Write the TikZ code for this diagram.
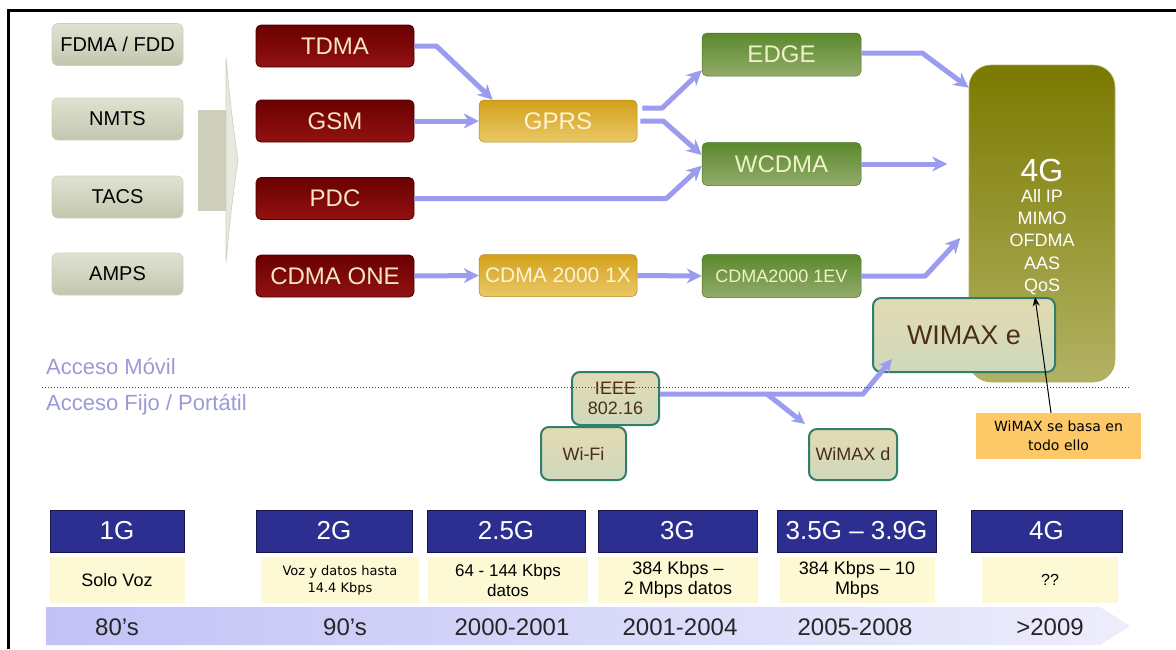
\documentclass[tikz,border=0pt]{standalone}
\usepackage{fontspec}
\setmainfont{Liberation Sans}
\newfontfamily\notefont{DejaVu Sans}
\usetikzlibrary{arrows.meta}

\newcommand{\fsz}[2]{\fontsize{#1}{#2}\selectfont}

\definecolor{lav}{HTML}{9B9BF0}
\definecolor{oldtop}{HTML}{E0E2D2}
\definecolor{oldbot}{HTML}{C3C6AE}
\definecolor{oldedge}{HTML}{CDD0BC}
\definecolor{redtop}{HTML}{6A0000}
\definecolor{redbot}{HTML}{931212}
\definecolor{rededge}{HTML}{4A0000}
\definecolor{cream}{HTML}{F6E6C6}
\definecolor{goldtop}{HTML}{D3A11A}
\definecolor{goldbot}{HTML}{EAC869}
\definecolor{goldtext}{HTML}{FCF4D2}
\definecolor{greentop}{HTML}{5A892C}
\definecolor{greenbot}{HTML}{93AB6B}
\definecolor{greentext}{HTML}{EFF2C8}
\definecolor{olivetop}{HTML}{7A7A00}
\definecolor{olivebot}{HTML}{B2B264}
\definecolor{wxtop}{HTML}{E3DAB2}
\definecolor{wxbot}{HTML}{CFD9BD}
\definecolor{wxedge}{HTML}{2F7F6C}
\definecolor{wxtext}{HTML}{4A2E1A}
\definecolor{navy}{HTML}{2C2E90}
\definecolor{navyedge}{HTML}{15164A}
\definecolor{paleyellow}{HTML}{FCF9D4}
\definecolor{notefill}{HTML}{FDC868}
\definecolor{accesstext}{HTML}{9A9AD6}
\definecolor{divider}{HTML}{3A3A8C}
\definecolor{bandleft}{HTML}{C2C2F6}
\definecolor{bandright}{HTML}{EDEDFC}
\definecolor{chevfill}{HTML}{CDCFBC}
\definecolor{chevlight}{HTML}{E8E9DE}

\begin{document}
\begin{tikzpicture}[x=1pt,y=-1pt,
  oldbox/.style={rounded corners=6pt, minimum width=131pt, minimum height=42pt,
    top color=oldtop, bottom color=oldbot, draw=oldedge, line width=0.6pt,
    text=black, font=\fsz{20}{24}, inner sep=0pt},
  redbox/.style={rounded corners=5pt, minimum width=158pt, minimum height=42pt,
    top color=redtop, bottom color=redbot, draw=rededge, line width=0.8pt,
    text=cream, font=\fsz{24}{28}, inner sep=0pt},
  goldbox/.style={rounded corners=5pt, minimum width=158pt, minimum height=42pt,
    top color=goldtop, bottom color=goldbot, draw=goldtop!85!black, line width=0.5pt,
    text=goldtext, inner sep=0pt},
  greenbox/.style={rounded corners=5pt, minimum width=159pt, minimum height=43pt,
    top color=greentop, bottom color=greenbot, draw=greentop!85!black, line width=0.5pt,
    text=greentext, inner sep=0pt},
  wxbox/.style={rounded corners=8pt, top color=wxtop, bottom color=wxbot,
    draw=wxedge, line width=2pt, text=wxtext, inner sep=0pt, align=center},
  genbox/.style={fill=navy, draw=navyedge, line width=1pt, minimum height=42pt,
    text=white, font=\fsz{26}{30}, inner sep=0pt},
  infobox/.style={fill=paleyellow, minimum height=46pt, text=black,
    font=\fsz{18}{20}, align=center, inner sep=0pt},
  yeartext/.style={text=black!85, font=\fsz{24}{28}, inner sep=0pt},
  flow/.style={draw=lav, line width=5pt, line join=round,
    -{Stealth[length=15pt,width=15pt]}},
  fixflow/.style={draw=lav, line width=5pt, line join=round,
    -{Stealth[length=13pt,width=13pt]}},
  plainlabel/.style={inner sep=0pt}
]
\useasboundingbox (0,0) rectangle (1176,649);

% frame on the top and left side
\coordinate (frameBL) at (8.5,649);
\coordinate (frameTL) at (8.5,10.5);
\coordinate (frameTR) at (1176,10.5);
\draw[line width=2.2pt] (frameBL) -- (frameTL) -- (frameTR);

% first generation systems
\node[oldbox] (fdma) at (117.5,44.5) {FDMA / FDD};
\node[oldbox] (nmts) at (117.5,119) {NMTS};
\node[oldbox] (tacs) at (117.5,197) {TACS};
\node[oldbox] (amps) at (117.5,274) {AMPS};

% large chevron leading to the second generation
\fill[chevfill] (198,110) rectangle (227,211);
\filldraw[fill=chevlight, draw=chevfill, line width=0.6pt]
  (226,58) .. controls (231,110) .. (238,160) .. controls (231,210) .. (226,262) -- cycle;

% second generation systems
\node[redbox] (tdma) at (335,46) {TDMA};
\node[redbox] (gsm)  at (335,121) {GSM};
\node[redbox] (pdc)  at (335,198.5) {PDC};
\node[redbox] (cdmaone) at (335,276) {CDMA ONE};

% 2.5G
\node[goldbox, font=\fsz{24}{28}] (gprs) at (558,121) {GPRS};
\node[goldbox, font=\fsz{21}{24}] (cdmax) at (558,275.5) {CDMA 2000 1X};

% 3G
\node[greenbox, font=\fsz{24}{28}] (edge)  at (781.5,54.5) {EDGE};
\node[greenbox, font=\fsz{24}{28}] (wcdma) at (781.5,164) {WCDMA};
\node[greenbox, font=\fsz{18}{22}] (cdmaev) at (781.5,276) {CDMA2000 1EV};

% 4G column
\node[rounded corners=22pt, minimum width=146pt, minimum height=317pt,
      top color=olivetop, bottom color=olivebot, draw=olivetop!60!white,
      line width=0.6pt] (fourg) at (1042,223.5) {};
\node[plainlabel, text=white, font=\fsz{32}{36}] (fourgtitle) at (1042,170) {4G};
\node[plainlabel, text=white, font=\fsz{18}{22.3}, align=center] (fourglist)
  at (1042,242) {All IP\\MIMO\\OFDMA\\AAS\\QoS};

% mobile evolution paths
\draw[flow] (tdma.east) -- ++(22,0) -- ([xshift=14pt]gprs.north west);
\draw[flow] (gsm.east) -- (gprs.west);
\draw[flow] (pdc.east) -- ++(252,0) -- ([yshift=20pt]wcdma.south west);
\draw[flow] (cdmaone.east) -- (cdmax.west);
\draw[flow] ([xshift=5pt,yshift=13pt]gprs.east) -- ++(20,0) -- ([yshift=6pt]edge.south west);
\draw[flow] ([xshift=3pt]gprs.east) -- ++(23,0) -- ([yshift=9pt]wcdma.west);
\draw[flow] (cdmax.east) -- (cdmaev.west);
\draw[flow] ([yshift=1.5pt]edge.east) -- ++(61,0) -- ([yshift=-23pt]fourg.north west);
\draw[flow] (wcdma.east) -- ++(86,0);
\draw[flow] (cdmaev.east) -- ++(64,0) -- ++(35,-38);

% WiMAX family
\node[wxbox, minimum width=182pt, minimum height=74pt, font=\fsz{27}{30}]
  (wimaxe) at (964,335) {WIMAX e};
\node[wxbox, minimum width=87pt, minimum height=53pt, font=\fsz{18}{20}]
  (ieee) at (615.5,398.5) {IEEE\\802.16};
\node[wxbox, minimum width=85pt, minimum height=53pt, font=\fsz{18}{20}]
  (wifi) at (583.5,453.5) {Wi-Fi};
\node[wxbox, minimum width=88pt, minimum height=51pt, font=\fsz{18}{20}]
  (wimaxd) at (853,454.5) {WiMAX d};

\coordinate (fork) at (767,394);
\draw[fixflow] ([yshift=4.5pt]ieee.east) -- ++(203,0) -- ([xshift=20pt,yshift=14pt]wimaxe.south west);
\draw[fixflow] (fork) -- ([xshift=-3pt,yshift=4pt]wimaxd.north west);

% mobile / fixed access divider
\node[plainlabel, anchor=west, text=accesstext, font=\fsz{22}{26}] (movil) at (46,366) {Acceso Móvil};
\node[plainlabel, anchor=west, text=accesstext, font=\fsz{22}{26}] (fijo) at (46,405) {Acceso Fijo / Portátil};
\coordinate (divL) at (42,387);
\coordinate (divR) at (1130,387);
\draw[divider, dotted, line width=1pt] (divL) -- (divR);

% note on WiMAX
\node[fill=notefill, minimum width=165pt, minimum height=46pt, align=center,
      font=\notefont\fsz{14}{19}, inner sep=0pt] (note) at (1058.5,436)
  {WiMAX se basa en\\todo ello};
\draw[line width=1pt, -{Stealth[length=9pt,width=7pt]}]
  ([xshift=-7.5pt]note.north) -- ([xshift=-7pt,yshift=-2pt]fourglist.south);

% generation headings
\node[genbox, minimum width=134pt] (g1)  at (117,531)   {1G};
\node[genbox, minimum width=156pt] (g2)  at (334,531)   {2G};
\node[genbox, minimum width=158pt] (g25) at (506,531)   {2.5G};
\node[genbox, minimum width=159pt] (g3)  at (677.5,531) {3G};
\node[genbox, minimum width=159pt] (g35) at (856.5,531) {3.5G -- 3.9G};
\node[genbox, minimum width=151pt] (g4)  at (1046.5,531){4G};

% capabilities of each generation
\node[infobox, minimum width=135pt] (i1)  at (117,580) {Solo Voz};
\node[infobox, minimum width=158pt, font=\notefont\fsz{13}{17}] (i2) at (340,580)
  {Voz y datos hasta\\14.4 Kbps};
\node[infobox, minimum width=160pt, font=\fsz{17}{20}] (i25) at (508,580) {64 - 144 Kbps\\datos};
\node[infobox, minimum width=160pt] (i3)  at (678,580) {384 Kbps --\\2 Mbps datos};
\node[infobox, minimum width=155pt] (i35) at (857,580) {384 Kbps -- 10\\Mbps};
\node[infobox, minimum width=136pt, font=\fsz{16}{18}] (i4) at (1050,580) {??};

% time line
\shade[left color=bandleft, right color=bandright]
  (46,607) -- (1100,607) -- (1130,626) -- (1100,645) -- (46,645) -- cycle;
\node[yeartext] (y1)  at (117,627)  {80’s};
\node[yeartext] (y2)  at (345,627)  {90’s};
\node[yeartext] (y25) at (512,627)  {2000-2001};
\node[yeartext] (y3)  at (680,627)  {2001-2004};
\node[yeartext] (y35) at (855,627)  {2005-2008};
\node[yeartext] (y4)  at (1050,627) {>2009};
\end{tikzpicture}
\end{document}
